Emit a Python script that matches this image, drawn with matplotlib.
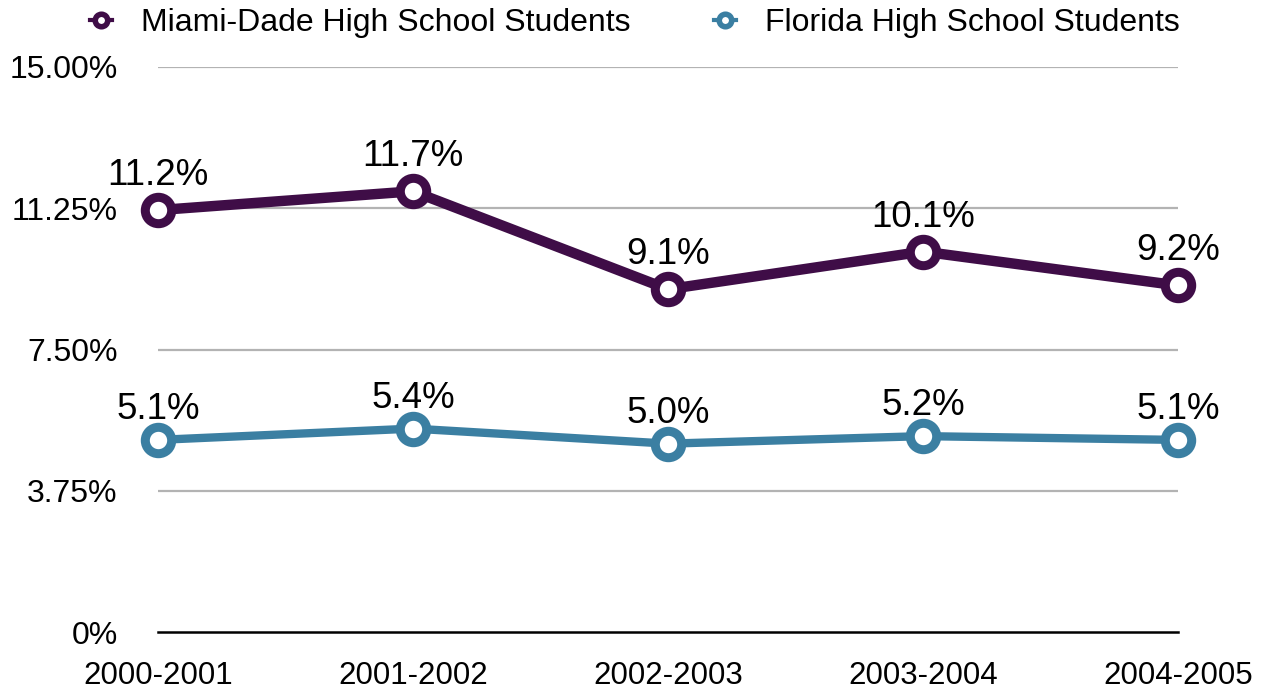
import numpy as np
import matplotlib
matplotlib.use('Agg')
import matplotlib.pyplot as plt

plt.rcParams['font.family'] = ['Liberation Sans', 'DejaVu Sans']

# dati
years = ['2000-2001', '2001-2002', '2002-2003', '2003-2004', '2004-2005']
miami = [11.2, 11.7, 9.1, 10.1, 9.2]
florida = [5.1, 5.4, 5.0, 5.2, 5.1]
yticks = [0, 3.75, 7.5, 11.25, 15]
ytick_labels = ['0%', '3.75%', '7.50%', '11.25%', '15.00%']

c_miami = '#3f0d47'
c_flor = '#3b7fa2'

W, H = 1263, 689
fig = plt.figure(figsize=(W/100, H/100), dpi=100)
ax = fig.add_axes([158/W, 1 - 632/H, (1178-158)/W, (632-67)/H])

x = np.arange(len(years))
ax.plot(x, miami, '-o', color=c_miami, lw=7.5, ms=19, mew=6.5,
        mfc='white', mec=c_miami, label='Miami-Dade High School Students',
        zorder=3, clip_on=False)
ax.plot(x, florida, '-o', color=c_flor, lw=6, ms=19, mew=6.5,
        mfc='white', mec=c_flor, label='Florida High School Students',
        zorder=3, clip_on=False)

for xi, v in zip(x, miami):
    ax.annotate('%.1f%%' % v, (xi, v), xytext=(0, 18), textcoords='offset points',
                ha='center', va='baseline', fontsize=26.5, annotation_clip=False)
for xi, v in zip(x, florida):
    ax.annotate('%.1f%%' % v, (xi, v), xytext=(0, 15), textcoords='offset points',
                ha='center', va='baseline', fontsize=26.5, annotation_clip=False)

ax.set_xlim(0, len(years) - 1)
ax.set_ylim(0, 15)
ax.set_xticks(x)
ax.set_xticklabels(years, fontsize=22.5)
ax.set_yticks(yticks)
ax.set_yticklabels(ytick_labels, fontsize=23)
ax.tick_params(axis='both', length=0)
ax.tick_params(axis='y', pad=29)
ax.tick_params(axis='x', pad=21)

for yv in yticks[1:]:
    ax.axhline(yv, color='#b3b3b3', lw=1.6, zorder=1)
for s in ['top', 'right', 'left']:
    ax.spines[s].set_visible(False)
ax.spines['bottom'].set_linewidth(1.8)
ax.spines['bottom'].set_zorder(2)

leg = fig.legend(loc='center left', bbox_to_anchor=(90/W, 1 - 23/H), ncol=2,
                 frameon=False, fontsize=23, handlelength=0.7, handletextpad=0.9,
                 columnspacing=2.6, borderaxespad=0, borderpad=0)
for h in leg.legend_handles:
    h.set_markersize(9)
    h.set_markeredgewidth(4)
    h.set_linewidth(3)

fig.savefig('out.png', dpi=100)
